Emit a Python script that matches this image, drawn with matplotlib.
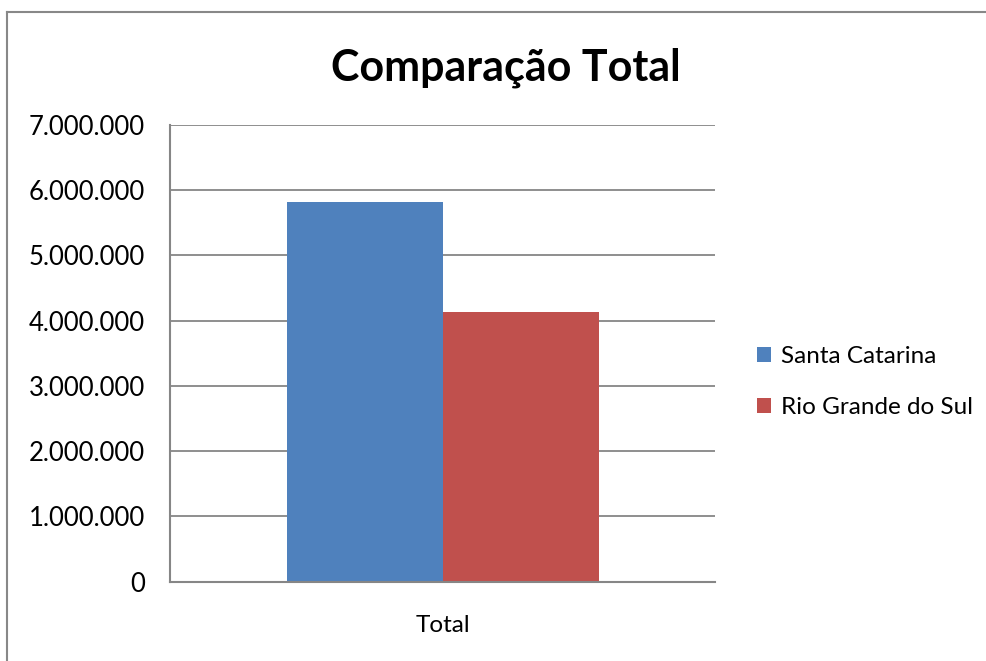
import matplotlib.pyplot as plt
from matplotlib.ticker import FuncFormatter
from matplotlib.lines import Line2D

plt.rcParams['font.family'] = ['Lato', 'DejaVu Sans']

categories = ['Total']
series = ['Santa Catarina', 'Rio Grande do Sul']
values = [5820000, 4130000]
colors = ['#4f81bd', '#c0504d']
yticks = [0, 1000000, 2000000, 3000000, 4000000, 5000000, 6000000, 7000000]

fig = plt.figure(figsize=(9.86, 6.61), dpi=100)
W, H = 986, 661
ax = fig.add_axes([170 / W, 1 - 581.6 / H, (715 - 170) / W, (581.6 - 125) / H])

width = 156 / 545
for i, (name, v, c) in enumerate(zip(series, values, colors)):
    ax.bar(0 + (i - 0.5) * width, v, width=width, color=c, label=name, zorder=2)

ax.set_xlim(-0.5, 0.5)
ax.set_ylim(0, 7000000)
ax.set_yticks(yticks)
ax.yaxis.set_major_formatter(FuncFormatter(lambda v, p: f'{int(v):,}'.replace(',', '.')))
ax.set_xticks([0])
ax.set_xticklabels(categories)
ax.tick_params(axis='y', length=0, pad=18, labelsize=18.5)
ax.tick_params(axis='x', length=0, pad=24, labelsize=17.5)
ax.grid(axis='y', color='#868686', linewidth=1.3, zorder=0)
for s in ['top', 'right']:
    ax.spines[s].set_visible(False)
for s in ['left', 'bottom']:
    ax.spines[s].set_color('#868686')
    ax.spines[s].set_linewidth(1.5)

fig.text(506 / W, 1 - 68 / H, 'Comparação Total', ha='center', va='center',
         fontsize=31, fontweight='bold')

leg = fig.legend(loc='center left', bbox_to_anchor=(735 / W, 1 - 382 / H),
                 frameon=False, fontsize=17.5, handlelength=0.6, handleheight=0.6,
                 handletextpad=0.4, labelspacing=1.25)

# outer chart frame, cut off at the right and bottom edges
fig.add_artist(Line2D([7 / W, 7 / W], [0, 1 - 12 / H], color='#888888', lw=1.5,
                      transform=fig.transFigure))
fig.add_artist(Line2D([7 / W, 1], [1 - 12 / H, 1 - 12 / H], color='#888888', lw=1.5,
                      transform=fig.transFigure))

fig.savefig('out.png', dpi=100)
